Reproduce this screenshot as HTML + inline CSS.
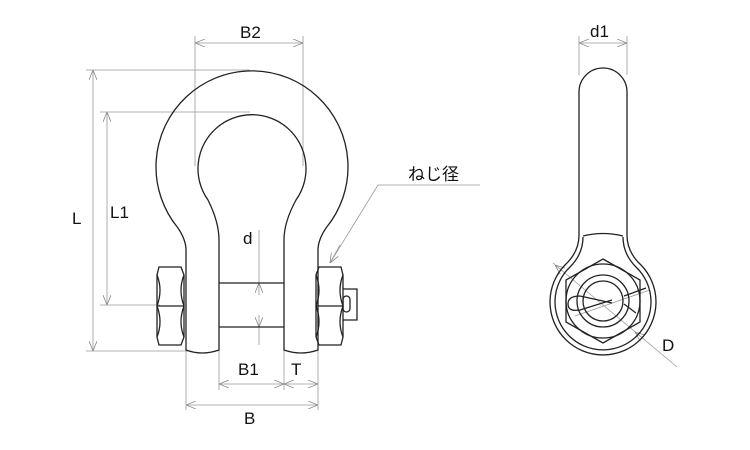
<!DOCTYPE html>
<html><head><meta charset="utf-8"><style>body{margin:0;background:#fff}svg{display:block}text{font-family:"Liberation Sans","Noto Sans CJK JP",sans-serif;font-size:17px;fill:#111}</style></head><body>
<svg width="750" height="450" viewBox="0 0 750 450" xmlns="http://www.w3.org/2000/svg">
<defs><marker id="a" markerWidth="10" markerHeight="8" refX="10" refY="4" orient="auto-start-reverse" markerUnits="userSpaceOnUse"><path d="M0,0 L10,4 L0,8" fill="none" stroke="#888" stroke-width="0.8"/></marker></defs>
<g fill="none" stroke="#999" stroke-width="0.8">
<line x1="195" y1="36" x2="195" y2="166"/><line x1="303" y1="36" x2="303" y2="166"/>
<line x1="195" y1="43" x2="303" y2="43" marker-start="url(#a)" marker-end="url(#a)"/>
<line x1="86" y1="70" x2="250" y2="70"/><line x1="86" y1="351" x2="190" y2="351"/>
<line x1="93" y1="70" x2="93" y2="351" marker-start="url(#a)" marker-end="url(#a)"/>
<line x1="100" y1="112" x2="250" y2="112"/><line x1="100" y1="305" x2="160" y2="305"/>
<line x1="107" y1="112" x2="107" y2="305" marker-start="url(#a)" marker-end="url(#a)"/>
<line x1="186" y1="350" x2="186" y2="410"/><line x1="318" y1="350" x2="318" y2="410"/>
<line x1="219" y1="327" x2="219" y2="390"/><line x1="284" y1="350" x2="284" y2="390"/>
<line x1="219" y1="384" x2="284" y2="384" marker-start="url(#a)" marker-end="url(#a)"/>
<line x1="284" y1="384" x2="318" y2="384" marker-start="url(#a)" marker-end="url(#a)"/>
<line x1="186" y1="405" x2="318" y2="405" marker-start="url(#a)" marker-end="url(#a)"/>
<line x1="259" y1="230" x2="259" y2="283"/><line x1="259" y1="283" x2="259" y2="295" marker-start="url(#a)"/>
<line x1="259" y1="315" x2="259" y2="327" marker-end="url(#a)"/><line x1="259" y1="327" x2="259" y2="345"/>
<polyline points="480,185 378,185 330,263"/><line x1="340" y1="245" x2="330" y2="263" marker-end="url(#a)"/>
<line x1="579" y1="36" x2="579" y2="75"/><line x1="627" y1="36" x2="627" y2="75"/>
<line x1="579" y1="43" x2="627" y2="43" marker-start="url(#a)" marker-end="url(#a)"/>
<line x1="553" y1="263" x2="677" y2="367"/>
<line x1="565" y1="273" x2="555" y2="265" marker-end="url(#a)"/><line x1="635" y1="332" x2="645" y2="340" marker-start="url(#a)"/>
<line x1="575" y1="316" x2="650" y2="290"/>
</g>
<g fill="none" stroke="#222" stroke-width="1.3">
<path d="M186,350 L186,250 Q186,240 178,228 A96,96 0 1 1 326,228 Q318,240 318,250 L318,350 Q301,356 284,350 L284,240 Q284,222 296,200 A54,54 0 1 0 208,200 Q219,222 219,240 L219,350 Q202,356 186,350Z"/>
<line x1="219" y1="283" x2="284" y2="283"/><line x1="219" y1="327" x2="284" y2="327"/>
<path d="M159,267 L181,267 L184,275 L184,337 L181,345 L159,345 L157,337 L157,275Z"/>
<path d="M157,275 Q163,290 157,306 Q163,322 157,337 M184,275 Q178,290 184,306 Q178,322 184,337 M157,306 L184,306"/>
<path d="M319,267 L341,267 L343,275 L343,337 L341,345 L319,345 L316,337 L316,275Z"/>
<path d="M316,275 Q322,290 316,306 Q322,322 316,337 M343,275 Q337,290 343,306 Q337,322 343,337 M316,306 L343,306"/>
<path d="M343,289 L357,289 L357,320 L343,320"/><rect x="343" y="296" width="7" height="16" rx="3.5"/>
<path d="M579,235 L579,92 A24,24 0 0 1 627,92 L627,235 Q627,252 641,265 A53,53 0 1 1 565,265 Q579,252 579,235Z"/>
<path d="M583,237 Q583,254 570,267 A48,48 0 1 0 636,267 Q623,254 623,237"/>
<path d="M583,236 Q603,231 623,236"/>
<polygon points="603,259 640,280 640,322 603,343 566,322 566,280"/>
<circle cx="603" cy="301" r="37"/><circle cx="603" cy="301" r="26"/><circle cx="603" cy="301" r="20"/>
<path d="M580,296 Q568,296 568,304 Q568,312 580,310 L612,300 M580,296 L612,303"/>
<path d="M624,296 L646,288 M624,304 L636,313"/>
</g>
<text x="240" y="38">B2</text><text x="72" y="224">L</text><text x="110" y="218">L1</text>
<text x="243" y="244">d</text><text x="238" y="375">B1</text><text x="291" y="375">T</text>
<text x="244" y="424">B</text><text x="408" y="180">ねじ径</text>
<text x="590" y="37">d1</text><text x="662" y="351">D</text>
</svg>
</body></html>
